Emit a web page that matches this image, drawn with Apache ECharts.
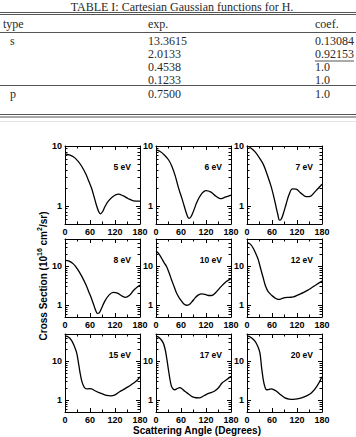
<!DOCTYPE html>
<html><head><meta charset="utf-8">
<script src="https://cdn.jsdelivr.net/npm/echarts@6/dist/echarts.min.js"></script>
<style>html,body{margin:0;padding:0;background:#fff;}#c{width:356px;height:437px;}</style>
</head><body><div id="c"></div>
<script>
// ---------- table data ----------
const tableTitle = 'TABLE I: Cartesian Gaussian functions for H.';
const tableHeader = ['type', 'exp.', 'coef.'];
const tableTypes = ['s', '', '', '', 'p'];
const tableExps = ['13.3615', '2.0133', '0.4538', '0.1233', '0.7500'];
const tableCoefs = ['0.13084', '0.92153', '1.0', '1.0', '1.0'];
const underlinedCoefRow = 1;

// ---------- chart data ----------
const panelLabels = ['5 eV', '6 eV', '7 eV', '8 eV', '10 eV', '12 eV', '15 eV', '17 eV', '20 eV'];
const xTickLabels = [0, 60, 120, 180];
const yTickLabels = [1, 10];
const yRangeRow1 = [0.5, 10];
const yRangeRow23 = [0.5, 50];
const yMinorRow1 = [0.5, 0.6, 0.7, 0.8, 0.9, 2, 3, 4, 5, 6, 7, 8, 9];
const yMinorRow23 = [0.5, 0.6, 0.7, 0.8, 0.9, 2, 3, 4, 5, 6, 7, 8, 9, 20, 30, 40, 50];
const xAxisTitle = 'Scattering Angle (Degrees)';
const yAxisTitle = 'Cross Section (10{sup|16} cm{sup|2}/sr)';

const angles5 = [0, 10, 20, 30, 40, 50, 58, 64, 70, 76, 81, 85, 90, 96, 104, 116, 128, 140, 152, 164, 180];
const cs5 = [7.4, 7.1, 6.6, 5.7, 4.6, 3.4, 2.5, 1.95, 1.4, 1.0, 0.8, 0.74, 0.8, 0.98, 1.2, 1.45, 1.57, 1.47, 1.32, 1.22, 1.2];

const angles6 = [0, 10, 20, 30, 38, 46, 54, 62, 68, 74, 79, 84, 90, 98, 108, 120, 132, 144, 154, 166, 180];
const cs6 = [8.6, 8.1, 7.1, 5.9, 4.6, 3.2, 2.0, 1.35, 0.98, 0.72, 0.62, 0.66, 0.82, 1.15, 1.55, 1.8, 1.7, 1.45, 1.32, 1.4, 1.52];

const angles7 = [0, 10, 20, 30, 40, 50, 58, 64, 70, 74, 78, 82, 87, 94, 101, 109, 118, 130, 142, 152, 164, 180];
const cs7 = [10, 9.2, 7.9, 6.3, 4.8, 3.1, 2.1, 1.45, 0.95, 0.72, 0.58, 0.6, 0.74, 1.08, 1.55, 1.92, 1.9, 1.62, 1.43, 1.45, 1.75, 2.3];

const angles8 = [0, 10, 20, 30, 40, 50, 58, 64, 70, 74, 78, 82, 88, 96, 106, 116, 126, 136, 146, 156, 166, 180];
const cs8 = [14.2, 13.5, 11.5, 8.5, 5.6, 3.4, 2.1, 1.45, 0.95, 0.72, 0.62, 0.64, 0.85, 1.3, 1.85, 2.15, 2.05, 1.75, 1.6, 1.85, 2.5, 3.3];

const angles10 = [0, 6, 13, 20, 25, 31, 37, 43, 49, 55, 61, 67, 73, 79, 86, 94, 102, 110, 118, 126, 134, 144, 156, 168, 180];
const cs10 = [24, 21.5, 16.3, 12, 10, 7, 4.6, 3.1, 2.1, 1.6, 1.29, 1.08, 1.0, 1.03, 1.22, 1.55, 1.85, 1.97, 1.9, 1.78, 1.78, 2.15, 3.0, 4.0, 4.8];

const angles12 = [0, 8, 15, 22, 27, 33, 39, 44, 50, 59, 67, 75, 83, 91, 101, 111, 123, 135, 145, 155, 167, 180];
const cs12 = [41, 37, 29, 20, 14.8, 8.5, 5.0, 3.2, 2.3, 1.8, 1.55, 1.42, 1.47, 1.57, 1.6, 1.63, 1.85, 2.1, 2.4, 2.8, 3.4, 4.2];

const angles15 = [0, 8, 16, 22, 28, 32, 36, 40, 44, 48, 53, 58, 64, 72, 80, 90, 100, 110, 120, 131, 141, 151, 161, 171, 180];
const cs15 = [45, 42, 34, 25, 16.4, 9.5, 5.2, 3.2, 2.4, 2.05, 1.95, 1.98, 1.95, 1.75, 1.6, 1.45, 1.33, 1.3, 1.38, 1.65, 1.9, 2.2, 2.6, 3.1, 4.0];

const angles17 = [0, 8, 17, 22, 25, 29, 33, 37, 41, 45, 51, 57, 63, 69, 78, 88, 96, 104, 112, 120, 130, 140, 150, 159, 170, 180];
const cs17 = [44, 40, 30, 20, 13.4, 7, 3.7, 2.3, 1.95, 1.86, 2.0, 2.1, 1.95, 1.7, 1.45, 1.22, 1.16, 1.15, 1.25, 1.4, 1.55, 1.7, 2.1, 2.8, 3.4, 4.1];

const angles20 = [0, 8, 19, 26, 31, 35, 39, 43, 47, 53, 59, 65, 71, 80, 91, 101, 111, 121, 131, 143, 155, 168, 180];
const cs20 = [45, 42, 33, 24, 16.4, 7, 3.4, 2.2, 1.86, 1.9, 1.95, 1.85, 1.7, 1.4, 1.15, 1.07, 1.05, 1.08, 1.15, 1.3, 1.55, 2.3, 4.0];

// ---------- layout ----------
const FONT = '"Liberation Sans", Arial, Helvetica, sans-serif';
const SERIF = '"Liberation Serif", "Times New Roman", serif';
const colLeft = [65, 156, 247];
const rowTop = [146, 239, 334];
const plotW = 75, plotH = 78;

const panels = [
  { x: angles5, y: cs5, range: yRangeRow1, minor: yMinorRow1 },
  { x: angles6, y: cs6, range: yRangeRow1, minor: yMinorRow1 },
  { x: angles7, y: cs7, range: yRangeRow1, minor: yMinorRow1 },
  { x: angles8, y: cs8, range: yRangeRow23, minor: yMinorRow23 },
  { x: angles10, y: cs10, range: yRangeRow23, minor: yMinorRow23 },
  { x: angles12, y: cs12, range: yRangeRow23, minor: yMinorRow23 },
  { x: angles15, y: cs15, range: yRangeRow23, minor: yMinorRow23 },
  { x: angles17, y: cs17, range: yRangeRow23, minor: yMinorRow23 },
  { x: angles20, y: cs20, range: yRangeRow23, minor: yMinorRow23 }
];

const blk = { color: '#000', width: 1 };
const grids = [], xAxes = [], yAxes = [], series = [], graphics = [];

panels.forEach((p, i) => {
  const r = Math.floor(i / 3), c = i % 3;
  grids.push({ left: colLeft[c], top: rowTop[r], width: plotW, height: plotH, containLabel: false, outerBoundsMode: 'none' });
  const xBase = {
    type: 'value', gridIndex: i,
    min: xTickLabels[0], max: xTickLabels[xTickLabels.length - 1],
    interval: xTickLabels[1] - xTickLabels[0],
    splitLine: { show: false }, minorSplitLine: { show: false },
    axisLine: { show: true, onZero: false, lineStyle: blk },
    axisTick: { show: true, inside: true, length: 4, lineStyle: blk },
    minorTick: { show: true, splitNumber: 2, length: 2.5, lineStyle: blk }
  };
  xAxes.push(Object.assign({}, xBase, { position: 'bottom',
    axisLabel: { show: true, margin: 3, fontSize: 9, fontWeight: 'bold', fontFamily: FONT, color: '#000' } }));
  xAxes.push(Object.assign({}, xBase, { position: 'top', axisLabel: { show: false } }));

  const yBase = {
    type: 'log', logBase: 10, gridIndex: i, min: p.range[0], max: p.range[1],
    splitLine: { show: false }, minorTick: { show: false }, minorSplitLine: { show: false }
  };
  yAxes.push(Object.assign({}, yBase, { position: 'left',
    axisLine: { show: true, onZero: false, lineStyle: blk },
    axisTick: { show: true, inside: true, length: 4, customValues: yTickLabels, lineStyle: blk },
    axisLabel: { show: true, customValues: yTickLabels, margin: 3, fontSize: 9, fontWeight: 'bold', fontFamily: FONT, color: '#000',
      formatter: v => String(v) } }));
  yAxes.push(Object.assign({}, yBase, { position: 'right',
    axisLine: { show: true, onZero: false, lineStyle: blk },
    axisTick: { show: true, inside: true, length: 4, customValues: yTickLabels, lineStyle: blk },
    axisLabel: { show: false } }));
  yAxes.push(Object.assign({}, yBase, { position: 'left',
    axisLine: { show: false, onZero: false },
    axisTick: { show: true, inside: true, length: 2.5, customValues: p.minor, lineStyle: blk },
    axisLabel: { show: false } }));
  yAxes.push(Object.assign({}, yBase, { position: 'right',
    axisLine: { show: false, onZero: false },
    axisTick: { show: true, inside: true, length: 2.5, customValues: p.minor, lineStyle: blk },
    axisLabel: { show: false } }));

  series.push({
    type: 'line', xAxisIndex: 2 * i, yAxisIndex: 4 * i,
    data: p.x.map((a, k) => [a, p.y[k]]),
    showSymbol: false, symbol: 'none', smooth: 0.35, silent: true,
    lineStyle: { color: '#000', width: 1.3 }
  });

  graphics.push({ type: 'text', x: colLeft[c] + 66, y: rowTop[r] + 21, silent: true,
    style: { text: panelLabels[i], fontSize: 8.5, fontWeight: 'bold', fontFamily: FONT, fill: '#000',
      align: 'right', verticalAlign: 'middle', textAlign: 'right', textVerticalAlign: 'middle' } });
});

// axis titles
graphics.push({ type: 'text', x: 197, y: 430, silent: true,
  style: { text: xAxisTitle, fontSize: 10, fontWeight: 'bold', fontFamily: FONT, fill: '#000',
    align: 'center', verticalAlign: 'middle', textAlign: 'center', textVerticalAlign: 'middle' } });
graphics.push({ type: 'text', x: 43, y: 276, rotation: Math.PI / 2, silent: true,
  style: { text: yAxisTitle, fontSize: 10, fontWeight: 'bold', fontFamily: FONT, fill: '#000', lineHeight: 14,
    align: 'center', verticalAlign: 'middle', textAlign: 'center', textVerticalAlign: 'middle',
    rich: { sup: { fontSize: 7, fontWeight: 'bold', fontFamily: FONT, fill: '#000', lineHeight: 7, verticalAlign: 'top' } } } });

// ---------- table ----------
const tcol = '#2a2a2a', lcol = '#555';
const TFS = 12;
function tText(t, x, y, align) {
  graphics.push({ type: 'text', x: x, y: y, silent: true,
    style: { text: t, fontSize: TFS, fontFamily: SERIF, fill: tcol, align: align || 'left', verticalAlign: 'middle',
      textAlign: align || 'left', textVerticalAlign: 'middle' } });
}
function tLine(y, x1, x2, w) {
  graphics.push({ type: 'line', silent: true, shape: { x1: x1, y1: y, x2: x2, y2: y },
    style: { stroke: lcol, lineWidth: w || 1 } });
}
const coefX = 315;
tText(tableTitle, 182, 6.5, 'center');
tLine(12.5, 0, 356); tLine(14.5, 0, 356);
tText(tableHeader[0], 3, 24); tText(tableHeader[1], 148, 24); tText(tableHeader[2], coefX, 24);
tLine(32.5, 0, 356);
const rowY = [41, 54, 67, 80, 94];
tableExps.forEach((e, k) => {
  if (tableTypes[k]) tText(tableTypes[k], 10, rowY[k]);
  tText(e, 148, rowY[k]);
  tText(tableCoefs[k], coefX, rowY[k]);
});
tLine(rowY[underlinedCoefRow] + 7, coefX, coefX + 39);
tLine(85.5, 0, 356);
tLine(114.5, 0, 356); tLine(117, 0, 356);
graphics.push({ type: 'line', silent: true, shape: { x1: 0, y1: 121.5, x2: 356, y2: 121.5 },
  style: { stroke: '#e4e4e4', lineWidth: 1 } });

const chart = echarts.init(document.getElementById('c'), null, { renderer: 'svg', width: 356, height: 437 });
chart.setOption({
  animation: false,
  backgroundColor: '#fff',
  textStyle: { fontFamily: FONT },
  grid: grids, xAxis: xAxes, yAxis: yAxes, series: series, graphic: graphics
});
</script>
</body></html>
